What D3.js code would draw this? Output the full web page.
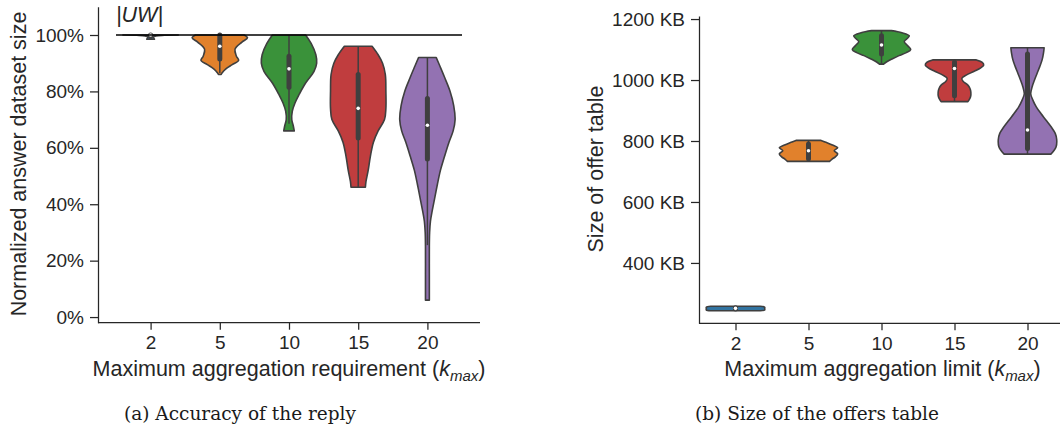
<!DOCTYPE html>
<html>
<head>
<meta charset="utf-8">
<script src="https://cdn.jsdelivr.net/npm/d3@7"></script>
<style>
  body { margin: 0; background: #fff; }
  svg { display: block; font-family: "Liberation Sans", Arial, sans-serif; }
</style>
</head>
<body>
<svg id="chart" width="1060" height="432"></svg>
<script>
// categories (k_max)
const categories = ["2", "5", "10", "15", "20"];
const colors = ["#3274a1", "#e1812c", "#3a923a", "#c03d3e", "#9372b2"];

// left panel: normalized answer dataset size (%), violin outline [value, relative half width]
const accuracyProfiles = [
    [[100, 1.0], [99.9, 0.5], [99.7, 0.2], [99.3, 0.1], [98.8, 0.12], [98.5, 0.14]],
    [[100, 0.88], [99, 1.0], [97.5, 0.8], [95, 0.55], [92.5, 0.6], [91, 0.68], [89.5, 0.45], [88, 0.22], [86.5, 0.08], [86, 0.05]],
    [[100, 0.6], [97, 0.8], [93, 0.97], [90, 1.0], [87, 0.9], [83, 0.6], [79, 0.37], [76, 0.22], [73, 0.12], [70, 0.1], [68, 0.15], [66, 0.19]],
    [[96, 0.5], [93, 0.72], [90, 0.88], [86, 0.98], [80, 1.0], [74, 1.0], [70, 0.95], [66, 0.72], [62, 0.55], [57, 0.44], [52, 0.36], [48, 0.28], [46, 0.26]],
    [[92, 0.32], [89, 0.45], [85, 0.62], [80, 0.82], [75, 0.95], [70, 1.0], [66, 0.93], [62, 0.78], [57, 0.62], [52, 0.47], [47, 0.36], [42, 0.26], [38, 0.18], [34, 0.11], [30, 0.08], [25, 0.07], [15, 0.07], [6, 0.07]]
];
// [q1, median, q3, whisker low, whisker high]
const accuracyBoxes = [
    [99.5, 100, 100, 98.5, 100],
    [91.5, 96, 100, 86.5, 100],
    [81.5, 88, 92.5, 68.5, 100],
    [63.5, 74, 86, 46, 96],
    [56, 68, 77.5, 25.5, 92]
];
const accuracyTicks = [0, 20, 40, 60, 80, 100];
const unweighted = 100;

// right panel: size of offer table (KB)
const sizeProfiles = [
    [[258, 0.85], [255, 1.0], [250, 1.0], [246, 1.0], [243, 0.85]],
    [[802, 0.43], [795, 0.62], [787, 0.82], [778, 1.0], [768, 0.88], [758, 1.0], [748, 0.92], [740, 0.8], [733, 0.72]],
    [[1162, 0.34], [1155, 0.7], [1145, 0.95], [1136, 0.88], [1126, 0.78], [1112, 0.9], [1100, 1.0], [1090, 0.85], [1080, 0.6], [1070, 0.38], [1060, 0.18], [1052, 0.07]],
    [[1066, 0.75], [1058, 0.95], [1049, 1.0], [1040, 0.9], [1028, 0.66], [1016, 0.4], [1005, 0.25], [995, 0.3], [984, 0.45], [972, 0.53], [960, 0.56], [945, 0.55], [935, 0.5], [929, 0.46]],
    [[1106, 0.57], [1090, 0.55], [1066, 0.5], [1044, 0.42], [1022, 0.33], [1000, 0.24], [978, 0.16], [955, 0.11], [935, 0.18], [912, 0.3], [890, 0.46], [869, 0.63], [845, 0.82], [825, 0.95], [805, 1.0], [781, 0.98], [768, 0.9], [757, 0.8]]
];
const sizeBoxes = [
    [249, 251, 253, 245, 257],
    [742, 768, 790, 735, 800],
    [1085, 1115, 1145, 1052, 1162],
    [948, 1038, 1058, 929, 1066],
    [775, 836, 1085, 757, 1106]
];
const sizeTicks = [400, 600, 800, 1000, 1200];

const svg = d3.select('#chart');
const edge = '#3f3f3f';
const ink = '#262626';


function draw_panel(opts) {
    const g = svg.append('g');
    const x = d3.scalePoint().domain(categories).range(opts.xRange).padding(opts.pad);
    const y = d3.scaleLinear().domain(opts.yDomain).range(opts.yRange);
    const half = x.step() * 0.4;

    opts.profiles.forEach((profile, i) => {
        const cx = x(categories[i]);
        const area = d3.area()
            .y(d => y(d[0]))
            .x0(d => cx - d[1] * half)
            .x1(d => cx + d[1] * half)
            .curve(d3.curveCatmullRom);
        g.append('path')
            .attr('d', area(profile))
            .attr('fill', colors[i])
            .attr('stroke', edge)
            .attr('stroke-width', 1.6)
            .attr('stroke-linejoin', 'round');

        const [q1, med, q3, lo, hi] = opts.boxes[i];
        g.append('line')
            .attr('x1', cx).attr('x2', cx)
            .attr('y1', y(lo)).attr('y2', y(hi))
            .attr('stroke', edge).attr('stroke-width', 1.5);
        g.append('line')
            .attr('x1', cx).attr('x2', cx)
            .attr('y1', y(q1)).attr('y2', y(q3))
            .attr('stroke', edge).attr('stroke-width', 5)
            .attr('stroke-linecap', 'round');
        g.append('circle')
            .attr('cx', cx).attr('cy', y(med))
            .attr('r', 1.8)
            .attr('fill', '#fff');
    });

    if (opts.extra) opts.extra(g, x, y);

    const xAxis = g.append('g')
        .attr('transform', `translate(0,${opts.yRange[0]})`)
        .call(d3.axisBottom(x).tickSize(7).tickSizeOuter(0).tickPadding(6))
        .attr('font-size', 19)
        .attr('font-family', null);
    xAxis.select('.domain').attr('d', `M${opts.xRange[0]},0H${opts.xRange[1]}`);

    g.append('g')
        .attr('transform', `translate(${opts.xRange[0]},0)`)
        .call(d3.axisLeft(y).tickValues(opts.ticks).tickFormat(opts.fmt)
            .tickSize(8).tickSizeOuter(0).tickPadding(6))
        .attr('font-size', 19)
        .attr('font-family', null);

    g.selectAll('.domain, .tick line').attr('stroke', ink).attr('stroke-width', 1.25);
    g.selectAll('.tick text').attr('fill', ink);

    // axis labels
    const xl = g.append('text')
        .attr('x', opts.xLabelX)
        .attr('y', 376)
        .attr('text-anchor', 'middle')
        .attr('font-size', 21.5)
        .attr('fill', ink);
    xl.append('tspan').text(opts.xLabel + ' (');
    xl.append('tspan').attr('font-style', 'italic').text('k');
    xl.append('tspan').attr('font-style', 'italic').attr('font-size', 15).attr('dy', 5).text('max');
    xl.append('tspan').attr('dy', -5).text(')');

    g.append('text')
        .attr('transform', `translate(${opts.yLabelX},${opts.yLabelY}) rotate(-90)`)
        .attr('text-anchor', 'middle')
        .attr('font-size', 21.5)
        .attr('fill', ink)
        .text(opts.yLabel);

    g.append('text')
        .attr('x', opts.captionX)
        .attr('y', 420)
        .attr('text-anchor', 'middle')
        .attr('font-family', '"DejaVu Serif", serif')
        .attr('font-size', 18.5)
        .attr('fill', '#1a1a1a')
        .text(opts.caption);
}


draw_panel({
    xRange: [98, 480], pad: 0.76, xLabelX: 289,
    yDomain: [-2, 110], yRange: [322.7, 6.8],
    profiles: accuracyProfiles, boxes: accuracyBoxes,
    ticks: accuracyTicks, fmt: d => `${d}%`,
    xLabel: 'Maximum aggregation requirement',
    yLabel: 'Normalized answer dataset size', yLabelX: 26, yLabelY: 164,
    caption: '(a) Accuracy of the reply', captionX: 240,
    extra: (g, x, y) => {
        const step = x.step();
        g.append('line')
            .attr('x1', x(categories[0]) - step / 2)
            .attr('x2', x(categories[categories.length - 1]) + step / 2)
            .attr('y1', y(unweighted)).attr('y2', y(unweighted))
            .attr('stroke', '#000').attr('stroke-width', 1.6);
        g.append('text')
            .attr('x', 116).attr('y', 22)
            .attr('font-size', 21.5).attr('font-style', 'italic')
            .attr('fill', ink)
            .text('|UW|');
    }
});

draw_panel({
    xRange: [699, 1064], pad: 0.5, xLabelX: 882.5,
    yDomain: [202, 1210], yRange: [323.3, 16],
    profiles: sizeProfiles, boxes: sizeBoxes,
    ticks: sizeTicks, fmt: d => `${d} KB`,
    xLabel: 'Maximum aggregation limit',
    yLabel: 'Size of offer table', yLabelX: 603, yLabelY: 169,
    caption: '(b) Size of the offers table', captionX: 817
});
</script>
</body>
</html>
